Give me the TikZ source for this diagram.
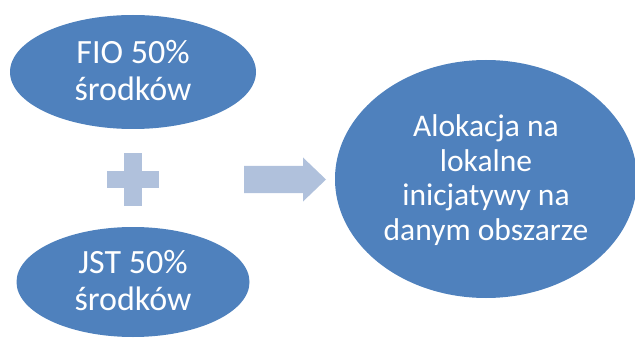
\documentclass[tikz,border=0pt]{standalone}
\usepackage{fontspec}
\setmainfont{Carlito}
\usetikzlibrary{shapes.geometric}

\definecolor{ovalblue}{HTML}{4F81BD}
\definecolor{signblue}{HTML}{B0C1DC}

% centred lines, a little below the middle of the oval
\newcommand{\ovaltext}[1]{\raisebox{-2.4pt}[\height][\depth]{%
  \begin{tabular}{@{}c@{}}#1\end{tabular}}}

\begin{document}
\begin{tikzpicture}[x=1pt,y=1pt,
    every node/.style = {text=white},
    oval/.style    = {ellipse, fill=ovalblue, inner sep=0pt,
      font=\fontsize{34}{36.7}\selectfont},
    big oval/.style = {oval, font=\fontsize{31.5}{34.5}\selectfont},
    sign/.style    = {fill=signblue, draw=none},
  ]
  \useasboundingbox (0,0) rectangle (635,338);

  \node[oval, minimum width=246pt, minimum height=114pt] (FIO)
    at (133,266) {\ovaltext{FIO 50\%\\środków}};
  \node[oval, minimum width=233pt, minimum height=110pt] (JST)
    at (133,56) {\ovaltext{JST 50\%\\środków}};
  \node[big oval, minimum width=302pt, minimum height=238pt] (Alokacja)
    at (486,159) {\ovaltext{Alokacja na\\lokalne\\inicjatywy na\\danym obszarze}};

  % plus sign
  \coordinate (plus) at (133,158.5);
  \fill[sign] ([shift={(-9,-26)}]plus) rectangle ([shift={(9,26)}]plus);
  \fill[sign] ([shift={(-26,-8.5)}]plus) rectangle ([shift={(26,8.5)}]plus);

  % block arrow
  \coordinate (arrow) at (244,158.5);
  \fill[sign] ([shift={(0,-13.5)}]arrow) -- ++(59,0) -- ++(0,-8.5)
    -- ([shift={(82,0)}]arrow) -- ([shift={(59,22)}]arrow)
    -- ++(0,-8.5) -- ([shift={(0,13.5)}]arrow) -- cycle;

\end{tikzpicture}
\end{document}
